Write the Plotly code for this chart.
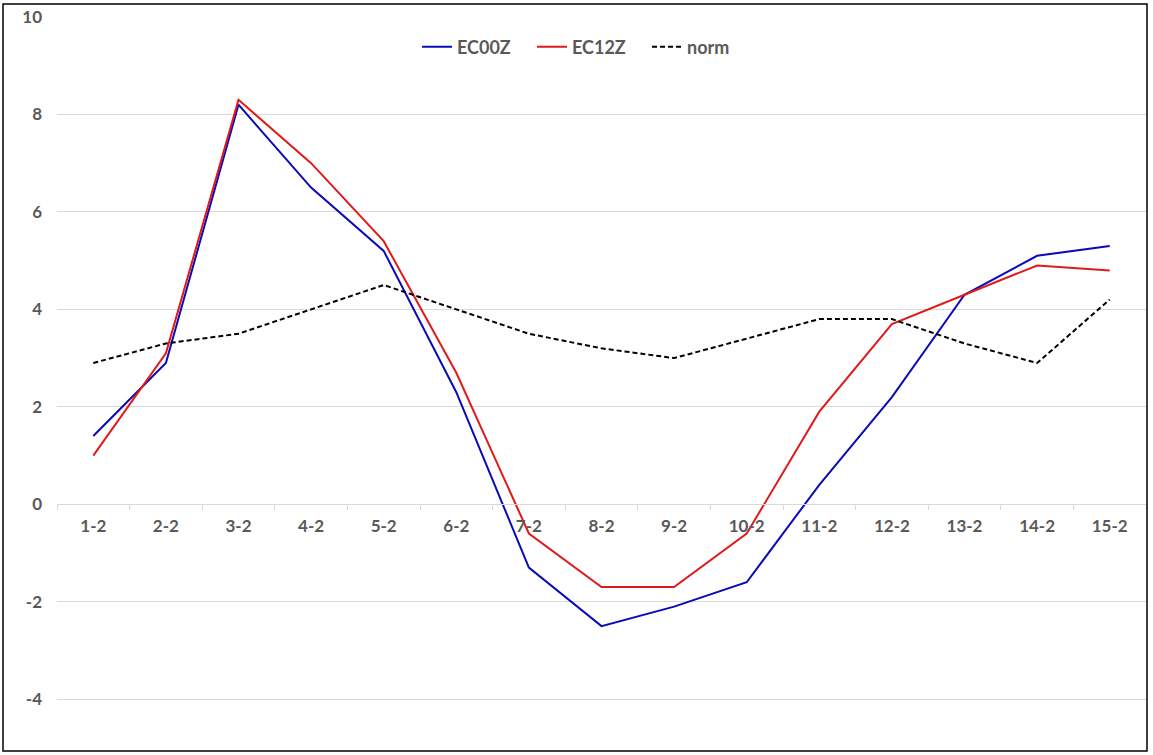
import plotly.graph_objects as go

categories = ["1-2", "2-2", "3-2", "4-2", "5-2", "6-2", "7-2", "8-2",
              "9-2", "10-2", "11-2", "12-2", "13-2", "14-2", "15-2"]
ec00z = [1.4, 2.9, 8.2, 6.5, 5.2, 2.3, -1.3, -2.5, -2.1, -1.6, 0.4, 2.2, 4.3, 5.1, 5.3]
ec12z = [1.0, 3.1, 8.3, 7.0, 5.4, 2.7, -0.6, -1.7, -1.7, -0.6, 1.9, 3.7, 4.3, 4.9, 4.8]
norm = [2.9, 3.3, 3.5, 4.0, 4.5, 4.0, 3.5, 3.2, 3.0, 3.4, 3.8, 3.8, 3.3, 2.9, 4.2]
y_ticks = [-4, -2, 0, 2, 4, 6, 8, 10]

Y_MIN, Y_MAX = -4.94, 10
FONT = "Lato"
GREY = "#595959"

fig = go.Figure()
fig.add_trace(go.Scatter(x=categories, y=ec00z, name="EC00Z", mode="lines",
                         line=dict(color="#0a0ab8", width=2)))
fig.add_trace(go.Scatter(x=categories, y=ec12z, name="EC12Z", mode="lines",
                         line=dict(color="#e01a1a", width=2)))
fig.add_trace(go.Scatter(x=categories, y=norm, name="norm", mode="lines",
                         line=dict(color="#000000", width=2, dash="5px,3px")))

W, H = 1153, 755
ml, mr, mt, mb = 57, 7, 17, 10
pw = W - ml - mr
ph = H - mt - mb

def px2x(px):
    return (px - ml) / pw

def py2y(py):
    return (H - mb - py) / ph

fig.update_layout(
    width=W, height=H,
    margin=dict(l=ml, r=mr, t=mt, b=mb, autoexpand=False),
    paper_bgcolor="white", plot_bgcolor="white",
    font=dict(family=FONT, color=GREY, size=17, weight="bold"),
    showlegend=True,
    legend=dict(orientation="h", x=px2x(417), xanchor="left", y=py2y(47), yanchor="middle",
                font=dict(family=FONT, size=18, color=GREY, weight="bold"),
                bgcolor="rgba(0,0,0,0)", itemwidth=30, tracegroupgap=0,
                entrywidth=70, entrywidthmode="pixels"),
    xaxis=dict(type="category", range=[-0.5, len(categories) - 0.5],
               anchor="free", position=(0 - Y_MIN) / (Y_MAX - Y_MIN),
               showline=True, linecolor="#d9d9d9", linewidth=1,
               ticks="outside", tickson="boundaries", ticklen=5, tickcolor="#d9d9d9",
               showgrid=False, zeroline=False, automargin=False,
               tickfont=dict(family=FONT, size=17, color=GREY, weight="bold"),
               ticklabelstandoff=6),
    yaxis=dict(range=[Y_MIN, Y_MAX], tickmode="array", tickvals=y_ticks,
               ticktext=[str(v) for v in y_ticks],
               showgrid=True, gridcolor="#d9d9d9", gridwidth=1,
               zeroline=False, showline=False, ticks="", automargin=False,
               tickfont=dict(family=FONT, size=17, color=GREY, weight="bold"),
               ticklabelstandoff=14),
    shapes=[dict(type="rect", xref="paper", yref="paper",
                 x0=px2x(3), x1=px2x(1147), y0=py2y(751), y1=py2y(4),
                 line=dict(color="black", width=1.5), fillcolor="rgba(0,0,0,0)",
                 layer="above")],
)

fig.write_html("out.html", config={"displayModeBar": False},
               post_script="document.body.style.margin='0';document.body.style.overflow='hidden';")
